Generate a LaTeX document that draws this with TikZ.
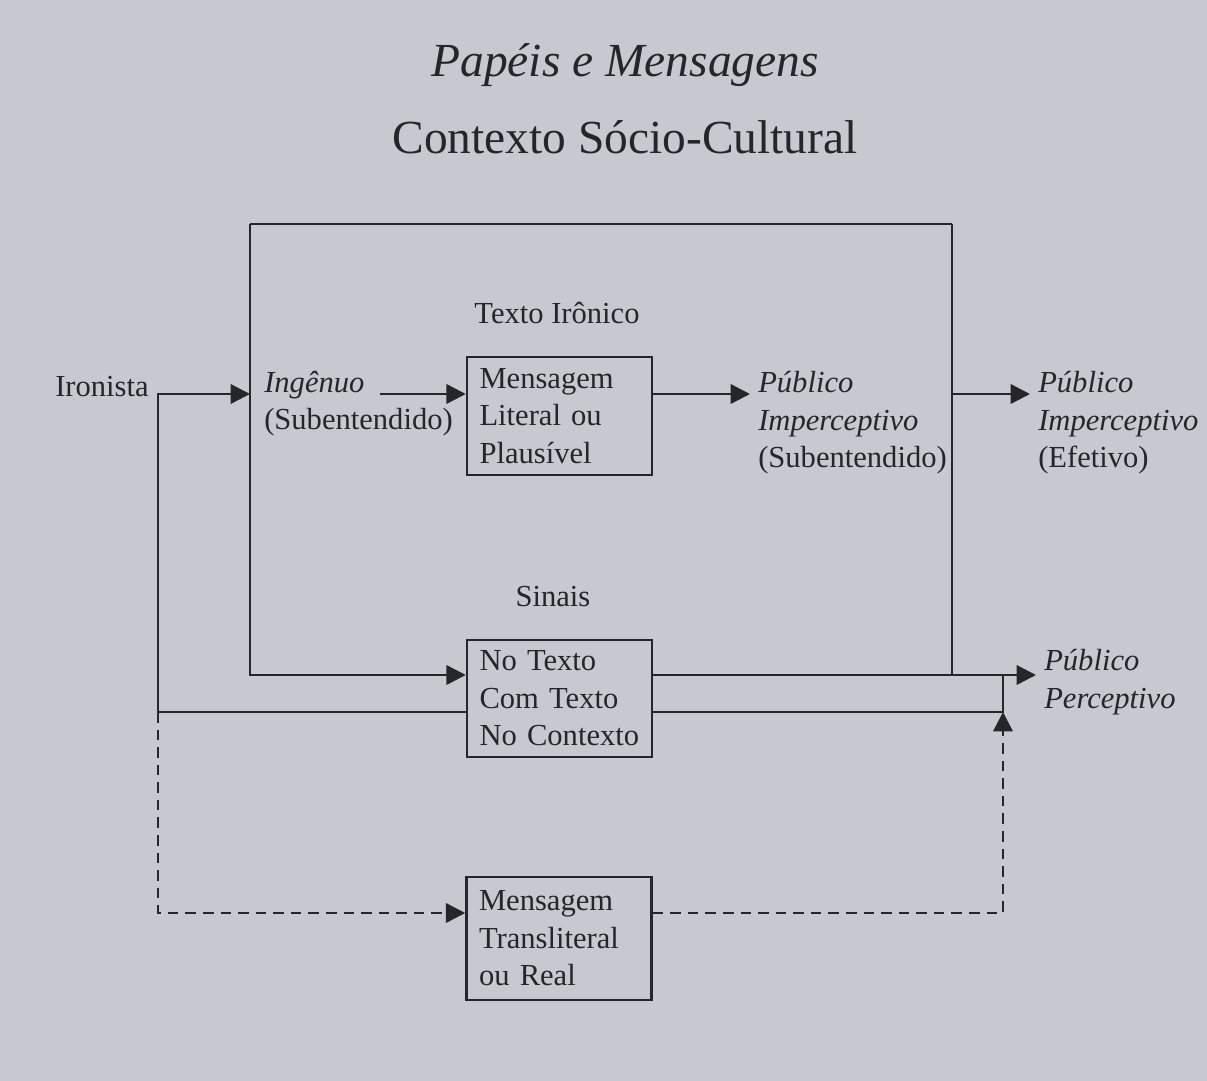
\documentclass[tikz,border=0pt]{standalone}
\usepackage{fontspec}
\setmainfont{Liberation Serif}
\usetikzlibrary{arrows.meta}
\definecolor{paper}{RGB}{198,201,208}
\definecolor{ink}{RGB}{38,38,42}

\begin{document}
\begin{tikzpicture}[x=0.1mm, y=-0.1mm, color=ink, line width=0.7pt,
  every node/.style={font=\fontsize{8.7}{10.7}\selectfont},
  msgbox/.style={draw, rectangle, minimum width=18.5mm, text width=16mm, align=left, inner xsep=1.25mm, inner ysep=0pt},
  lbl/.style={align=left, anchor=west, inner sep=2pt},
  arr/.style={-{Triangle[length=5.5pt,width=5.5pt]}},
  dsh/.style={dash pattern=on 3pt off 2pt}]
  \fill[paper] (0,0) rectangle (1207,1081);
  \useasboundingbox (0,0) rectangle (1207,1081);

  % Titles
  \node[font=\fontsize{13.5}{16}\selectfont\itshape] (Title) at (625,65) {Papéis e Mensagens};
  \node[font=\fontsize{13.5}{16}\selectfont] (Context) at (625,137) {Contexto Sócio-Cultural};

  % Nodes
  \node (Ironista) at (102,387) {Ironista};
  \node[lbl] (Ingenuo) at (256,385) {\textit{Ingênuo}};
  \node[lbl] (Subent) at (256,422) {(Subentendido)};
  \node (TextoIr) at (557,313) {Texto Irônico};
  \node[msgbox,minimum height=11.8mm] (Literal) at (559.5,416) {Mensagem\\Literal ou\\Plausível};
  \node[lbl] (PubSub) at (750,423) {\textit{Público}\\\textit{Imperceptivo}\\(Subentendido)};
  \node[lbl] (PubEf) at (1030,423) {\textit{Público}\\\textit{Imperceptivo}\\(Efetivo)};

  \node (SinaisLbl) at (553,597) {Sinais};
  \node[msgbox,minimum height=11.7mm] (Sinais) at (559.5,698.5) {No Texto\\Com Texto\\No Contexto};
  \node[lbl] (PubPerc) at (1036,682) {\textit{Público}\\\textit{Perceptivo}};

  \node[msgbox,minimum height=12.3mm] (Translit) at (559,938.5) {Mensagem\\Transliteral\\ou Real};

  % Corners
  \coordinate (TopL) at (250,224);
  \coordinate (TopR) at (952,224);
  \coordinate (Row) at (0,394);
  \coordinate (Upper) at (0,675);
  \coordinate (Split) at (158,712);
  \coordinate (Lower) at (0,913);
  \coordinate (Join) at (1003,675);

  % Edges
  \draw[arr] (Split) |- (TopL |- Row);
  \draw (TopL) -- (TopR);
  \draw[arr] (TopL) |- (Sinais.west |- Upper);
  \draw (TopR) -- (TopR |- Upper);
  \draw[arr] (TopR |- Row) -- (PubEf.west |- Row);
  \draw[arr,shorten <=0.7mm] (Ingenuo.east |- Row) -- (Literal.west |- Row);
  \draw[arr] (Literal.east |- Row) -- (PubSub.west |- Row);

  \draw (Split) -- (Sinais.west |- Split);
  \draw[arr] (Sinais.east |- Upper) -- (PubPerc.west |- Upper);
  \draw (Sinais.east |- Split) -| (Join);

  % Dashed
  \draw[arr,dsh] (Split) |- (Translit.west |- Lower);
  \draw[arr,dsh] (Translit.east |- Lower) -| (Join |- Split);
\end{tikzpicture}
\end{document}
